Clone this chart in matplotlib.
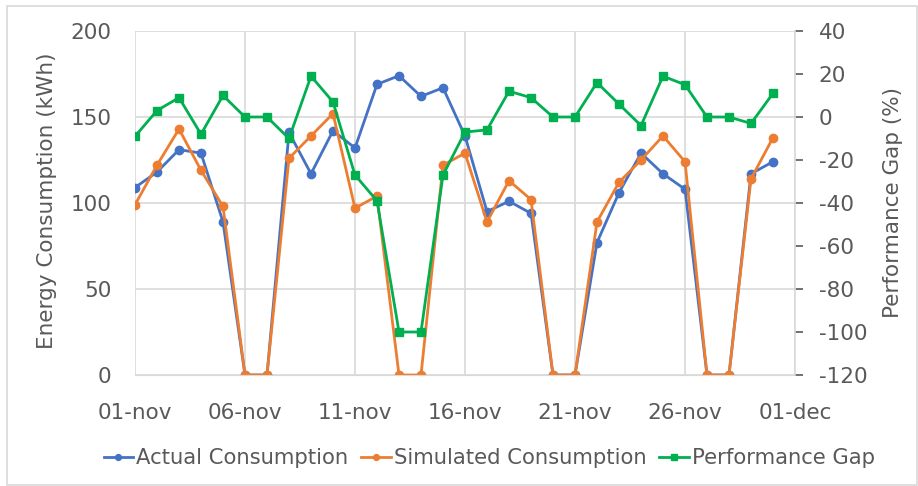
import numpy as np
import matplotlib
matplotlib.use("Agg")
import matplotlib.pyplot as plt
from matplotlib.patches import Rectangle

plt.rcParams['font.family'] = ['DejaVu Sans']
plt.rcParams['axes.unicode_minus'] = False

days = np.arange(np.datetime64('2023-11-01'), np.datetime64('2023-12-01'))
actual = [109, 118, 131, 129, 89, 0, 0, 141, 117, 142,
          132, 169, 174, 162, 167, 139, 95, 101, 94, 0,
          0, 77, 106, 129, 117, 108, 0, 0, 117, 124]
simulated = [99, 122, 143, 119, 98, 0, 0, 126, 139, 152,
             97, 104, 0, 0, 122, 129, 89, 113, 102, 0,
             0, 89, 112, 125, 139, 124, 0, 0, 114, 138]
gap = [-9, 3, 9, -8, 10, 0, 0, -10, 19, 7,
       -27, -39, -100, -100, -27, -7, -6, 12, 9, 0,
       0, 16, 6, -4, 19, 15, 0, 0, -3, 11]
tick_dates = np.array(['2023-11-01', '2023-11-06', '2023-11-11', '2023-11-16',
                       '2023-11-21', '2023-11-26', '2023-12-01'], dtype='datetime64[D]')
tick_labels = ['01-nov', '06-nov', '11-nov', '16-nov', '21-nov', '26-nov', '01-dec']

txt = '#595959'
grid = '#d9d9d9'
fs = 15.5

fig = plt.figure(figsize=(9.18, 4.86), dpi=100)
# light border like the original chart frame
fig.patches.append(Rectangle((7 / 918, 1 / 486), 910 / 918, 479 / 486, transform=fig.transFigure,
                             fill=False, edgecolor=grid, lw=1.2))
ax = fig.add_axes([135 / 918, 1 - 375 / 486, 660 / 918, 344 / 486])
ax2 = ax.twinx()

l1, = ax.plot(days, actual, color='#4472C4', lw=2, marker='o', ms=6, label='Actual Consumption')
l2, = ax.plot(days, simulated, color='#ED7D31', lw=2, marker='o', ms=6, label='Simulated Consumption')
l3, = ax2.plot(days, gap, color='#00B050', lw=2, marker='s', ms=5.5, label='Performance Gap')

ax.set_ylim(0, 200)
ax.set_yticks([0, 50, 100, 150, 200])
ax2.set_ylim(-120, 40)
ax2.set_yticks(np.arange(-120, 41, 20))
ax.set_xlim(tick_dates[0], tick_dates[-1])
ax.set_xticks(tick_dates)
ax.set_xticklabels(tick_labels)

ax.grid(True, color=grid, lw=1.2)
ax.set_axisbelow(True)
for a in (ax, ax2):
    for s in a.spines.values():
        s.set_visible(False)
ax2.spines['right'].set_visible(True)
ax2.spines['right'].set_color(grid)
ax2.spines['right'].set_linewidth(1.2)
ax.spines['bottom'].set_visible(True)
ax.spines['bottom'].set_color(grid)

ax.tick_params(axis='x', length=0, colors=txt, labelsize=fs, pad=20)
ax.tick_params(axis='y', length=0, colors=txt, labelsize=fs, pad=17)
ax2.tick_params(axis='y', length=6, width=1.2, colors=txt, labelsize=fs, pad=11)
for t in ax2.yaxis.get_ticklines():
    t.set_color(grid)

fig.text(47 / 918, 1 - 201 / 486, 'Energy Consumption (kWh)', rotation=90,
         ha='center', va='center', color=txt, fontsize=fs)
fig.text(893 / 918, 1 - 202 / 486, 'Performance Gap (%)', rotation=90,
         ha='center', va='center', color=txt, fontsize=fs)

fig.legend(handles=[l1, l2, l3], loc='center', bbox_to_anchor=(0.533, 1 - 458 / 486),
           ncol=3, frameon=False, fontsize=15.2, labelcolor=txt,
           handlelength=1.4, handletextpad=0.15, columnspacing=0.6, markerscale=0.7)

fig.savefig('out.png', dpi=100)
